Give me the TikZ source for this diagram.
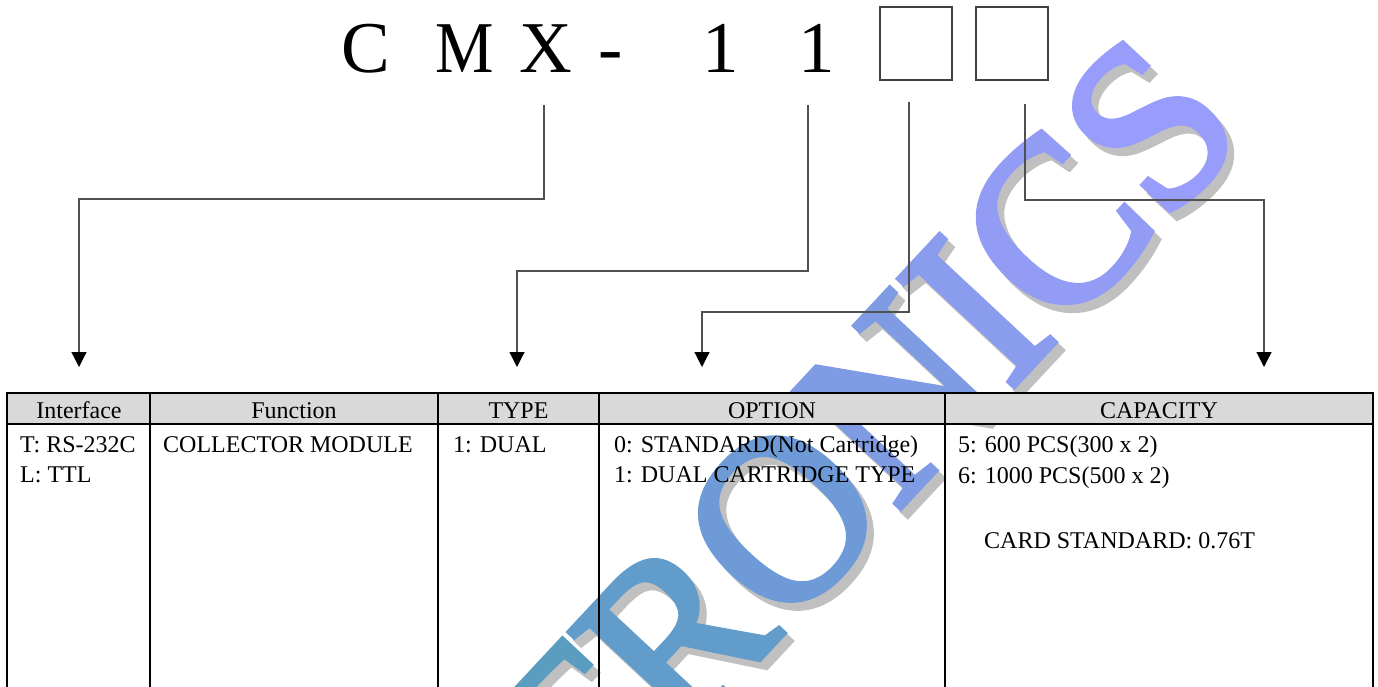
\documentclass[tikz,border=0pt]{standalone}
\usepackage{fontspec}
\setmainfont{Liberation Serif}
\newfontfamily\wmfont[FakeBold=2.5]{Liberation Serif}
\usetikzlibrary{arrows.meta}
\definecolor{wT}{HTML}{5A9DC0}
\definecolor{wR}{HTML}{619CCB}
\definecolor{wO}{HTML}{6E9BD8}
\definecolor{wN}{HTML}{7E9BE4}
\definecolor{wI}{HTML}{899CEE}
\definecolor{wC}{HTML}{929CF5}
\definecolor{wS}{HTML}{989CFA}
\definecolor{wshadow}{HTML}{C0C0C0}
\definecolor{hdrgray}{HTML}{D9D9D9}
\definecolor{connc}{HTML}{505050}
\begin{document}
\begin{tikzpicture}[x=1pt,y=-1pt,
  wm/.style={inner sep=0pt,anchor=base west,rotate=47,xscale=0.95,font=\wmfont\fontsize{240}{240}\selectfont},
  titlechar/.style={inner sep=0pt,anchor=base,font=\fontsize{73}{73}\selectfont},
  slot/.style={draw=black!75,line width=1.2pt},
  conn/.style={draw=connc,line width=1.2pt,-{Triangle[width=15pt,length=15pt,color=black]}},
  grid/.style={draw=black,line width=2pt},
  hdr/.style={inner sep=0pt,anchor=base,font=\fontsize{24}{28}\selectfont},
  cell/.style={inner sep=0pt,anchor=base west,font=\fontsize{24}{28}\selectfont}]
\useasboundingbox (0,0) rectangle (1378,686);
\clip (0,0) rectangle (1378,686);
% watermark
\node[wm,text=wshadow] (wmshadow) at (592,854) {TRONICS};
\node[wm] (wmtext) at (585,846) {\color{wT}T\color{wR}R\color{wO}O\color{wN}N\color{wI}I\color{wC}C\color{wS}S};
% title
\node[titlechar] (tC) at (366,72) {C};
\node[titlechar,xscale=0.9] (tM) at (465,72) {M};
\node[titlechar] (tX) at (546,72) {X};
\node[titlechar] (tD) at (611,72) {-};
\node[titlechar] (t1a) at (721,72) {1};
\node[titlechar] (t1b) at (817,72) {1};
\node[slot,minimum width=72pt,minimum height=73pt,inner sep=0pt] (box1) at (916,43.5) {};
\node[slot,minimum width=72pt,minimum height=73pt,inner sep=0pt] (box2) at (1012,43.5) {};
% connectors
\coordinate (sX) at (544,105);
\coordinate (s1) at (808,105);
\coordinate (sB1) at (909,102);
\coordinate (sB2) at (1025,104);
\coordinate (aI) at (79,367);
\coordinate (aT) at (517,367);
\coordinate (aO) at (702,367);
\coordinate (aC) at (1264,367);
\draw[conn] (sX) -- ++(0,94) -| (aI);
\draw[conn] (s1) -- ++(0,166) -| (aT);
\draw[conn] (sB1) -- ++(0,210) -| (aO);
\draw[conn] (sB2) -- ++(0,96) -| (aC);
% table
\fill[hdrgray] (7,393) rectangle (1373,424);
\draw[grid] (7,700) -- (7,393) -- (1373,393) -- (1373,700);
\draw[grid] (7,424) -- (1373,424);
\foreach \xx in {150,438,599,945} \draw[grid] (\xx,393) -- (\xx,700);
\node[hdr] (hI) at (79,418) {Interface};
\node[hdr] (hF) at (294,418) {Function};
\node[hdr] (hT) at (518.5,418) {TYPE};
\node[hdr] (hO) at (772,418) {OPTION};
\node[hdr] (hC) at (1159,418) {CAPACITY};
\node[cell] (i1) at (20,452) {T: RS-232C};
\node[cell] (i2) at (20,482) {L: TTL};
\node[cell] (f1) at (163,452) {COLLECTOR MODULE};
\node[cell] (ty1) at (453,452) {1: DUAL};
\node[cell] (o1) at (614,452) {0: STANDARD(Not Cartridge)};
\node[cell] (o2) at (614,482) {1: DUAL CARTRIDGE TYPE};
\node[cell] (c1) at (958,452) {5: 600 PCS(300 x 2)};
\node[cell] (c2) at (958,483) {6: 1000 PCS(500 x 2)};
\node[cell] (c3) at (984,548) {CARD STANDARD: 0.76T};
\end{tikzpicture}
\end{document}
